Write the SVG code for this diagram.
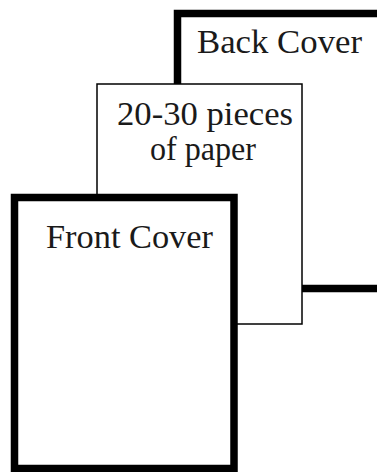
<svg xmlns="http://www.w3.org/2000/svg" width="377" height="472" viewBox="0 0 377 472">
<style>
text{font-family:'Liberation Serif','Times New Roman','DejaVu Serif',serif;font-size:33px;fill:#1a1a1a}
.thick{fill:#fff;stroke:#000;stroke-width:7.5}
.thin{fill:#fff;stroke:#000;stroke-width:1.5}
</style>
<rect width="377" height="472" fill="#fff"/>
<g id="back-cover">
<rect class="thick" x="177.5" y="13.5" width="260" height="275"/>
<text x="197" y="53" textLength="165" lengthAdjust="spacingAndGlyphs">Back Cover</text>
</g>
<g id="paper">
<rect class="thin" x="97" y="84" width="205" height="240"/>
<text x="117" y="125" textLength="176" lengthAdjust="spacingAndGlyphs">20-30 pieces</text>
<text x="150" y="160" textLength="106" lengthAdjust="spacingAndGlyphs">of paper</text>
</g>
<g id="front-cover">
<rect class="thick" x="14.5" y="197.5" width="219.5" height="271"/>
<text x="46" y="248" textLength="167" lengthAdjust="spacingAndGlyphs">Front Cover</text>
</g>
<g id="connectors"/>
</svg>
